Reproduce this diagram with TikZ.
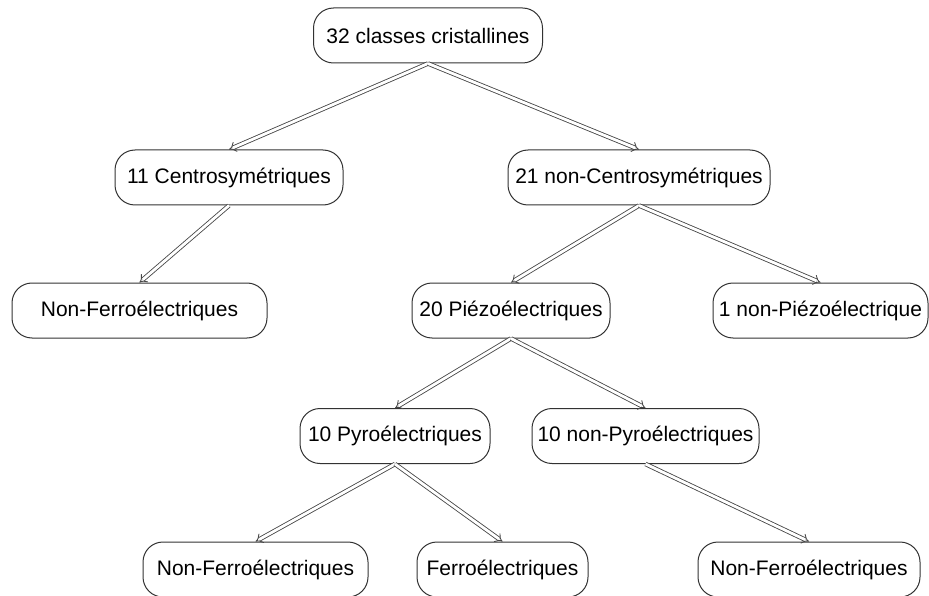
\documentclass[tikz,border=0pt]{standalone}
\usepackage{fontspec}
\setmainfont{Liberation Sans}
\definecolor{boxgray}{RGB}{50, 50, 50}
\definecolor{arrowgray}{RGB}{70, 70, 70}
\usetikzlibrary{arrows.meta, positioning}

\begin{document}
\begin{tikzpicture}[
  x=1pt, y=-1pt,
  classbox/.style={draw=boxgray, line width=1pt, rounded corners=20pt, minimum height=55pt, inner sep=0pt, align=center, font=\fontsize{21}{25}\selectfont},
  branch/.style={draw=arrowgray, line width=0.85pt, double=white, double distance=2.8pt, -{Implies[scale=1.3]}}
]
  \useasboundingbox (0,0) rectangle (929,596);

  \node[classbox, minimum width=229pt] (classes) at (428, 35.5) {32 classes cristallines};

  \node[classbox, minimum width=228pt] (centro) at (229, 177.5) {11 Centrosym\'etriques};
  \node[classbox, minimum width=262pt] (noncentro) at (639, 177.5) {21 non-Centrosym\'etriques};

  \node[classbox, minimum width=255pt] (ferroA) at (139.5, 310.5) {Non-Ferro\'electriques};
  \node[classbox, minimum width=198pt] (piezo) at (511, 310.5) {20 Pi\'ezo\'electriques};
  \node[classbox, minimum width=215pt] (nonpiezo) at (820.5, 310.5) {1 non-Pi\'ezo\'electrique};

  \node[classbox, minimum width=190pt] (pyro) at (395, 436) {10 Pyro\'electriques};
  \node[classbox, minimum width=227pt] (nonpyro) at (645.5, 436) {10 non-Pyro\'electriques};

  \node[classbox, minimum width=225pt] (ferroB) at (255.5, 569.5) {Non-Ferro\'electriques};
  \node[classbox, minimum width=171pt] (ferro) at (502.5, 569.5) {Ferro\'electriques};
  \node[classbox, minimum width=222pt] (ferroC) at (809, 569.5) {Non-Ferro\'electriques};

  % branches
  \draw[branch] (classes.south) -- (centro.north);
  \draw[branch] (classes.south) -- (noncentro.north);
  \draw[branch] (centro.south) -- (ferroA.north);
  \draw[branch] (noncentro.south) -- (piezo.north);
  \draw[branch] (noncentro.south) -- (nonpiezo.north);
  \draw[branch] (piezo.south) -- (pyro.north);
  \draw[branch] (piezo.south) -- (nonpyro.north);
  \draw[branch] (pyro.south) -- (ferroB.north);
  \draw[branch] (pyro.south) -- (ferro.north);
  \draw[branch] (nonpyro.south) -- (ferroC.north);
\end{tikzpicture}
\end{document}
